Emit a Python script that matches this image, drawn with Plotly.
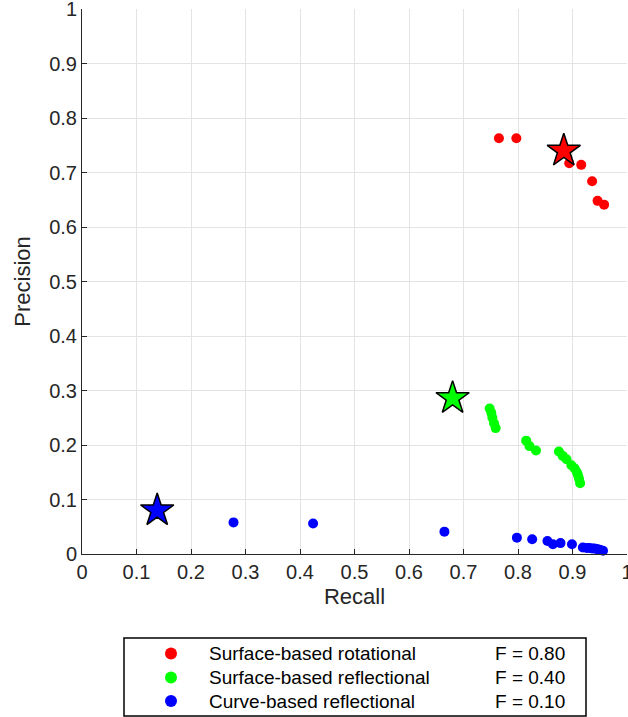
import plotly.graph_objects as go

# ---------------- data ----------------
series_names = ["Surface-based rotational", "Surface-based reflectional", "Curve-based reflectional"]
series_colors = ["#ff0000", "#00ff00", "#0000ff"]
f_labels = ["F = 0.80", "F = 0.40", "F = 0.10"]

rot_recall = [0.765, 0.797, 0.894, 0.916, 0.936, 0.946, 0.958]
rot_precision = [0.763, 0.763, 0.717, 0.714, 0.684, 0.648, 0.641]

refl_recall = [0.748, 0.751, 0.753, 0.756, 0.759, 0.815, 0.821, 0.833,
               0.875, 0.882, 0.889, 0.898, 0.904, 0.908, 0.910, 0.912, 0.914]
refl_precision = [0.267, 0.259, 0.250, 0.240, 0.231, 0.208, 0.198, 0.190,
                  0.188, 0.180, 0.174, 0.163, 0.157, 0.150, 0.145, 0.138, 0.130]

curve_recall = [0.278, 0.424, 0.665, 0.798, 0.826, 0.854, 0.864, 0.878, 0.899,
                0.919, 0.926, 0.931, 0.936, 0.940, 0.945, 0.950, 0.956]
curve_precision = [0.058, 0.056, 0.041, 0.030, 0.027, 0.024, 0.018, 0.020, 0.018,
                   0.012, 0.011, 0.011, 0.010, 0.010, 0.009, 0.008, 0.006]

star_recall = [0.884, 0.680, 0.138]
star_precision = [0.740, 0.286, 0.080]

ticks = [0, 0.1, 0.2, 0.3, 0.4, 0.5, 0.6, 0.7, 0.8, 0.9, 1]
tick_text = ["0", "0.1", "0.2", "0.3", "0.4", "0.5", "0.6", "0.7", "0.8", "0.9", "1"]

# ---------------- figure ----------------
FONT = "Liberation Sans, Arial, Helvetica, sans-serif"
fig = go.Figure()

all_x = [rot_recall, refl_recall, curve_recall]
all_y = [rot_precision, refl_precision, curve_precision]
for name, col, xs, ys in zip(series_names, series_colors, all_x, all_y):
    fig.add_trace(go.Scatter(x=xs, y=ys, mode="markers", name=name,
                             marker=dict(color=col, size=10, line=dict(width=0)),
                             showlegend=False, cliponaxis=False))

for i, col in enumerate(series_colors):
    fig.add_trace(go.Scatter(x=[star_recall[i]], y=[star_precision[i]], mode="markers",
                             name=series_names[i] + " (best)",
                             marker=dict(symbol="star", color=col, size=25,
                                         line=dict(color="black", width=1.5)),
                             showlegend=False, cliponaxis=False))

axis_common = dict(
    range=[0, 1], tickvals=ticks, ticktext=tick_text,
    showgrid=True, gridcolor="#e3e3e3", gridwidth=1,
    zeroline=False, showline=True, linecolor="#262626", linewidth=1,
    ticks="inside", ticklen=5, tickcolor="#262626",
    tickfont=dict(family=FONT, size=20, color="#262626"),
    ticklabeloverflow="allow",
    mirror=False,
)
fig.update_xaxes(**axis_common,
                 title=dict(text="Recall", font=dict(family=FONT, size=22, color="#262626"), standoff=6))
fig.update_yaxes(**axis_common,
                 title=dict(text="Precision", font=dict(family=FONT, size=22, color="#262626"), standoff=12))

# ---------------- legend (drawn box) ----------------
L, R, T, B = 82, 627, 9, 554
W, H = R - L, B - T
def px_x(p):
    return (p - L) / W
def px_y(p):
    return (B - p) / H

shapes = [dict(type="rect", xref="paper", yref="paper",
               x0=px_x(124), x1=px_x(586), y0=px_y(638), y1=px_y(716),
               line=dict(color="black", width=1.5), fillcolor="white", layer="above")]
annotations = []
row_y = [653.5, 677.5, 701]
for i, (name, col, fl) in enumerate(zip(series_names, series_colors, f_labels)):
    yc = px_y(row_y[i])
    shapes.append(dict(type="circle", xref="paper", yref="paper",
                       xsizemode="pixel", ysizemode="pixel",
                       xanchor=px_x(171), yanchor=yc,
                       x0=-6, x1=6, y0=-6, y1=6,
                       fillcolor=col, line=dict(width=0), layer="above"))
    annotations.append(dict(xref="paper", yref="paper", x=px_x(207), y=yc,
                            xanchor="left", yanchor="middle", showarrow=False,
                            text=name, font=dict(family=FONT, size=19, color="black")))
    annotations.append(dict(xref="paper", yref="paper", x=px_x(493), y=yc,
                            xanchor="left", yanchor="middle", showarrow=False,
                            text=fl, font=dict(family=FONT, size=19, color="black")))

fig.update_layout(
    width=628, height=717,
    margin=dict(l=L, r=628 - R, t=T, b=717 - B, autoexpand=False),
    plot_bgcolor="white", paper_bgcolor="white",
    shapes=shapes, annotations=annotations,
    showlegend=False,
)

fig.write_html("out.html")
